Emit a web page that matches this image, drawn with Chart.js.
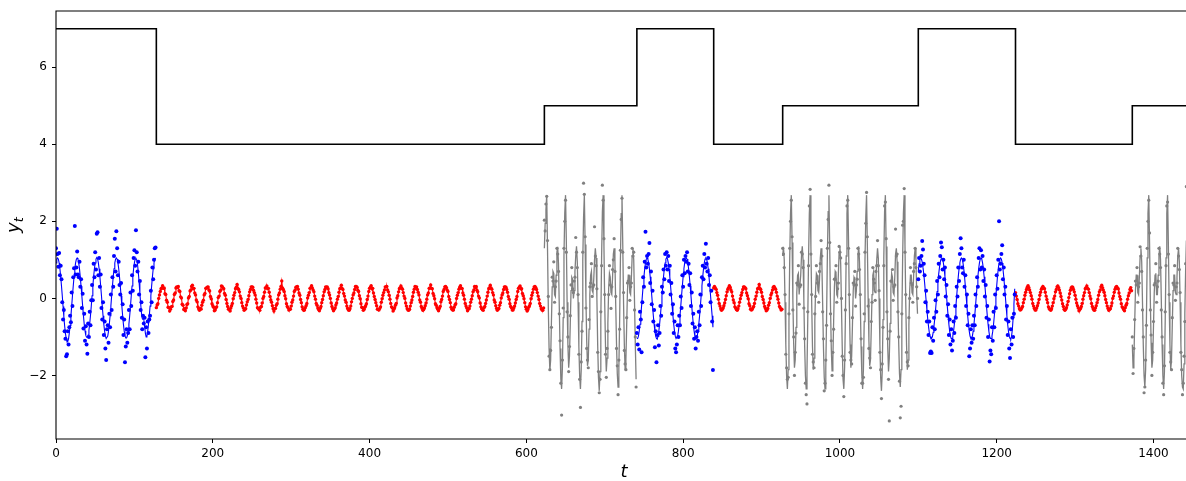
<!DOCTYPE html>
<html>
<head>
<meta charset="utf-8">
<script src="https://cdn.jsdelivr.net/npm/chart.js@4.4.1/dist/chart.umd.min.js"></script>
<style>html,body{margin:0;padding:0;background:#fff}</style>
</head>
<body>
<canvas id="c" width="1186" height="481"></canvas>
<script>
// axis ticks
const xTicks = [0, 200, 400, 600, 800, 1000, 1200, 1400];
const yTicks = [-2, 0, 2, 4, 6];

// regime indicator (step line)
const stepTimes = [0, 128, 623, 741, 839, 927, 1100, 1224, 1373, 1441.5];
const stepLevels = [7, 4, 5, 7, 4, 5, 7, 4, 5, 5];

// segment start times
const blueStart = [0, 741, 1100];
const redStart = [128, 839, 1224];
const grayStart = [623, 927, 1373];

// blue regime: smooth latent line + noisy observations
const blueLine1 = [.92,1.02,
1.05,1.02,.92,.77,.56,.32,.07,-.21,-.47,-.71,-.9,-1.04,-1.12,-1.12,-1.05,-.9,-.7,-.46,-.2,.07,.32,.56,.77,.92,1.02,
1.05,1.02,.92,.76,.55,.31,.06,-.2,-.45,-.67,-.84,-.96,-1.01,-1.01,-.95,-.83,-.66,-.44,-.2,.07,.32,.56,.77,.92,1.02,
1.06,1.03,.93,.77,.56,.32,.07,-.2,-.45,-.67,-.85,-.98,-1.04,-1.04,-.98,-.85,-.67,-.45,-.2,.07,.32,.56,.77,.92,1.02,
1.05,1.02,.92,.77,.56,.32,.07,-.2,-.45,-.67,-.85,-.97,-1.03,-1.03,-.97,-.85,-.67,-.45,-.2,.07,.32,.56,.77,.92,1.02,
1.04,1.0,.88,.68,.42,.14,-.14,-.38,-.52,-.55,-.56,-.7,-.9,-1.0,-.98,-.85,-.67,-.45,-.2,.07,.32,.56,.77,.92,1.02,
1.05];
const blueDots1 = [1.3,1.81,1.15,.82,1.18,.6,.85,.5,-.1,-.55,
-.3,-.85,-1.05,-1.5,-1.45,-.85,-1.2,-.75,-.45,-.62,
.15,-.2,.55,.78,1.88,.62,.8,1.22,.62,.55,
.95,.3,.5,-.25,.12,-.78,-.4,-1.1,-.72,-1.2,
-1.44,-.65,-1.0,-.35,-.7,-.05,.35,-.05,.9,.55,
1.2,.75,1.68,1.72,.6,1.05,.3,.62,-.25,-.55,
-.1,-.95,-.6,-1.3,-1.6,-.8,-.7,-1.15,-.4,-.75,
.1,-.3,.55,.3,1.1,1.55,.7,1.74,1.3,.6,
.95,.35,.1,.4,-.5,-.15,-.95,-.55,-1.66,-1.25,
-.8,-1.15,-.9,-.3,-.8,.15,-.2,.6,.2,1.05,
1.25,.85,1.77,1.2,.7,.95,.1,.45,-.3,-.1,
-.8,-.45,-.65,-.5,-1.53,-.75,-1.3,-.6,-.9,-.55,
-.45,.2,-.1,.8,.5,1.0,1.3,1.32];

const blueLine2 = [-1.04,-1.04,-.98,-.85,-.67,-.45,-.2,.07,.32,.56,.77,.92,1.02,
1.05,1.02,.92,.77,.56,.32,.07,-.2,-.45,-.67,-.85,-.98,-1.04,-1.06,-.98,-.85,-.67,-.45,-.2,.07,.32,.56,.77,.92,1.02,
1.06,1.03,.93,.77,.56,.32,.07,-.2,-.45,-.67,-.85,-.98,-1.04,-1.04,-.98,-.85,-.67,-.45,-.2,.07,.32,.56,.77,.92,1.02,
1.05,1.02,.92,.77,.56,.32,.07,-.2,-.45,-.67,-.85,-.98,-1.05,-1.05,-.98,-.85,-.67,-.45,-.2,.07,.32,.56,.77,.92,1.02,
1.05,1.02,.92,.77,.56,.32,.07,-.2,-.45,-.75];
const blueDots2 = [-.9,-1.2,-.75,-1.33,-.35,-.55,-1.4,-.1,.55,.3,
.95,1.73,.8,1.1,.9,1.15,1.44,.4,.7,-.15,
.2,-.6,-.3,-1.27,-.85,-1.66,-.95,-.7,-1.22,-.9,
-.2,-.45,.3,.15,.75,.5,1.15,.85,1.2,.75,
1.1,.45,.85,.1,.4,-.4,-.15,-.9,-.6,-1.3,
-1.4,-1.2,-.7,-1.0,-.45,-.7,.05,-.25,.6,.3,
1.0,.65,1.1,.95,1.2,.7,.9,.35,.65,-.2,
.15,-.65,-.4,-1.05,-.75,-1.3,-1.0,-.85,-1.1,-.35,
-.7,.1,-.2,.55,.85,.5,1.15,.8,1.42,.9,
.7,1.05,.35,.6,-.1,.2,-.6,-1.86];

const blueLine3 = [.7,.9,1.02,
1.05,1.02,.94,.8,.63,.42,.18,-.06,-.3,-.53,-.72,-.88,-.99,-1.04,-1.04,-.99,-.88,-.72,-.53,-.3,-.06,.18,.42,.63,.8,.94,1.02,
1.05,1.02,.92,.77,.56,.32,.07,-.2,-.45,-.67,-.85,-.98,-1.04,-1.04,-.98,-.85,-.67,-.45,-.2,.07,.32,.56,.77,.92,1.02,
1.05,1.02,.92,.77,.56,.32,.07,-.2,-.45,-.67,-.85,-.98,-1.04,-1.04,-.98,-.85,-.67,-.45,-.2,.07,.32,.56,.77,.92,1.02,
1.05,1.02,.92,.77,.56,.32,.07,-.2,-.45,-.67,-.85,-.98,-1.04,-1.04,-.98,-.85,-.67,-.45,-.2,.07,.32,.56,.77,.92,1.02,
1.05,1.02,.92,.77,.56,.32,.07,-.2,-.45,-.67,-.85,-.98,-1.04,-1.06,-.98,-.8,-.5,-.15,.25];
const blueDots3 = [.5,1.05,.7,.85,1.1,1.49,1.27,.9,.6,-.1,
.2,-.6,-.35,-.95,-.6,-1.42,-1.38,-1.42,-.75,-1.1,
-.5,-.8,-.05,-.35,.45,.1,.9,.55,1.1,1.45,
1.33,.75,1.0,.5,.8,.05,.35,-.45,-.15,-.95,
-.55,-1.2,-.8,-1.35,-1.1,-.6,-.9,-.2,-.5,.3,
.05,.8,.45,1.15,1.56,1.3,.8,.65,1.0,.3,
.6,-.2,.1,-.7,-.4,-1.5,-1.3,-.8,-1.15,-.7,
-1.05,-.45,-.7,.1,-.2,.55,.3,1.05,1.3,.75,
1.25,.8,1.1,.45,.75,.05,.35,-.5,-.2,-1.0,
-.55,-1.64,-1.35,-1.45,-.75,-1.1,-.35,-.75,.1,-.25,
.6,.25,1.0,2.0,.75,.9,1.15,1.38,.5,.8,
.1,.3,-.55,-.2,-.95,-.6,-1.3,-1.55,-.8,-1.2,
-.5,-1.0,-.4,.1];

// red regime: observations, close to the latent line
const redObs1 = [-.24,-.17,-.14,0,.09,.18,.25,.27,
.33,.26,.27,.12,.1,-.05,-.1,-.23,-.24,-.33,-.28,-.22,-.21,-.08,-.04,.1,.14,.27,.3,
.28,.31,.2,.18,.04,.01,-.15,-.18,-.29,-.27,-.32,-.25,-.16,-.14,.01,.05,.19,.22,.31,
.34,.25,.26,.14,.09,-.04,-.09,-.22,-.27,-.31,-.26,-.28,-.18,-.1,-.05,.09,.13,.26,.27,
.29,.3,.22,.19,.05,-.01,-.14,-.19,-.23,-.32,-.3,-.24,-.22,-.11,.02,.06,.18,.21,.32,
.31,.27,.25,.13,.08,-.03,-.13,-.21,-.28,-.29,-.33,-.25,-.19,-.13,-.01,.08,.15,.25,.29,
.36,.26,.23,.17,.06,0,-.11,-.2,-.25,-.31,-.28,-.27,-.17,-.09,-.03,.07,.17,.23,.3,
.3,.29,.21,.15,.09,-.02,-.12,-.24,-.26,-.29,-.31,-.23,-.21,-.12,0,.05,.16,.27,.28,
.32,.25,.26,.16,.05,-.04,-.1,-.19,-.27,-.33,-.27,-.26,-.18,-.14,-.02,.09,.14,.24,.31,
.45,.27,.23,.18,.07,-.01,-.14,-.21,-.24,-.3,-.29,-.28,-.2,-.1,-.04,.06,.18,.22,.29,
.3,.31,.24,.14,.08,-.03,-.11,-.22,-.28,-.31,-.3,-.24,-.19,-.13,.01,.08,.15,.26,.28,
.33,.27,.22,.17,.06,-.02,-.13,-.18,-.25,-.29,-.32,-.26,-.21,-.11,-.03,.07,.17,.23,.3,
.29,.3,.25,.15,.09,0,-.12,-.21,-.27,-.32,-.28,-.25,-.17,-.12,-.02,.05,.16,.25,.27,
.34,.26,.23,.13,.06,-.04,-.1,-.2,-.26,-.3,-.31,-.27,-.2,-.09,0,.09,.14,.23,.31,
.31,.29,.21,.18,.07,-.01,-.14,-.23,-.24,-.31,-.29,-.23,-.19,-.14,-.03,.06,.18,.26,.29,
.33,.25,.26,.14,.05,-.03,-.11,-.19,-.28,-.29,-.3,-.26,-.22,-.1,-.01,.08,.15,.22,.3,
.3,.31,.22,.17,.08,-.02,-.13,-.22,-.25,-.33,-.28,-.24,-.18,-.13,.01,.07,.17,.25,.28,
.32,.27,.24,.15,.06,0,-.12,-.2,-.27,-.3,-.31,-.28,-.2,-.11,-.04,.05,.16,.24,.31,
.29,.3,.23,.16,.09,-.04,-.1,-.21,-.26,-.31,-.29,-.25,-.19,-.12,-.02,.09,.14,.26,.27,
.35,.26,.25,.13,.07,-.01,-.14,-.18,-.24,-.28,-.32,-.26,-.21,-.09,-.03,.06,.18,.23,.3,
.31,.28,.22,.18,.05,-.03,-.11,-.23,-.28,-.3,-.3,-.23,-.17,-.14,0,.08,.15,.24,.29,
.33,.26,.26,.14,.08,-.02,-.13,-.2,-.25,-.32,-.27,-.27,-.2,-.1,-.02,.07,.17,.22,.31,
.28,.31,.21,.17,.06,.01,-.12,-.22,-.27,-.29,-.31,-.24,-.21,-.13,-.04,.06,.16,.25,.28,
.34,.27,.24,.15,.09,-.04,-.1,-.19,-.26,-.31,-.28,-.26,-.18,-.11,.01,.09,.14,.23,.3,
.3,.29,.23,.16,.05,-.02,-.14,-.21,-.24,-.3,-.3,-.25,-.2,-.12,-.03,.05,.18,.26,.29,
.32,.25,.25,.13,.07,-.01,-.11,-.22,-.28,-.33,-.29,-.23,-.19,-.13,-.01,.08,.15,.24,.3,
.31,.28,.23,.15,.06,-.03,-.13,-.2,-.27,-.3,-.31,-.25];
const redObs2 = [.27,
.31,.27,.24,.15,.08,-.02,-.13,-.2,-.27,-.31,-.28,-.25,-.19,-.12,-.03,.07,.17,.24,.28,
.33,.29,.22,.17,.06,-.04,-.11,-.22,-.25,-.29,-.31,-.27,-.2,-.1,-.01,.08,.15,.23,.3,
.3,.28,.25,.14,.07,-.01,-.14,-.19,-.28,-.3,-.29,-.24,-.21,-.13,-.02,.06,.16,.25,.27,
.36,.26,.23,.16,.05,-.03,-.12,-.21,-.26,-.32,-.3,-.26,-.18,-.11,0,.09,.14,.22,.29,
.31,.27,.24,.16,.06,-.02,-.12,-.21,-.25,-.3,-.28];
const redObs3 = [.15,.06,-.03,-.14,-.2,-.27,-.3,-.29,-.25,-.21,-.11,-.02,.08,.16,.23,.29,
.33,.28,.22,.15,.07,-.02,-.13,-.2,-.26,-.3,-.3,-.25,-.19,-.12,-.03,.08,.16,.24,.28,
.31,.27,.25,.16,.06,-.03,-.11,-.22,-.27,-.29,-.31,-.27,-.2,-.11,-.01,.06,.17,.23,.3,
.32,.28,.22,.14,.05,-.04,-.14,-.21,-.28,-.31,-.28,-.24,-.17,-.08,.02,.12,.21,.27,
.3,.29,.23,.17,.08,-.02,-.12,-.19,-.25,-.32,-.29,-.26,-.21,-.13,-.02,.07,.15,.25,.28,
.32,.26,.24,.15,.06,-.01,-.13,-.21,-.27,-.3,-.31,-.25,-.19,-.11,-.03,.08,.17,.22,.3,
.34,.28,.22,.16,.07,-.03,-.11,-.2,-.26,-.31,-.28,-.27,-.2,-.12,0,.06,.16,.24,.29,
.31,.27,.25,.14,.05,-.02,-.14,-.22,-.25,-.29,-.32,-.24,-.18,-.13,-.02,.07,.14,.23,.28,
.2];

// gray regime: latent line + noisy observations
const grayLine1 = [1.3,1.95,2.3,
2.68,1.3,-.2,-1.3,-1.88,-1.6,-.6,.3,.7,.65,.1,.05,.6,1.2,1.34,.9,-.2,-1.3,-2.1,-2.35,-1.8,-.5,1.1,2.2,
2.68,1.5,-.1,-1.2,-1.8,-1.5,-.7,.2,.55,.5,0,.2,.7,1.1,1.35,.95,-.1,-1.25,-2.0,-2.35,-1.85,-.6,1.0,2.1,
2.68,1.4,0,-1.1,-1.75,-1.6,-.8,.1,.6,.7,.2,.15,.5,1.0,1.3,1.05,0,-1.2,-2.05,-2.4,-1.9,-.55,1.05,2.25,
2.68,1.35,-.15,-1.25,-1.9,-1.55,-.65,.25,.65,.55,.15,.1,.55,1.15,1.3,.95,-.15,-1.15,-1.95,-2.3,-1.85,-.6,1.0,2.2,
2.68,1.4,-.1,-1.2,-1.85,-1.6,-.7,.2,.6,.6,.15,.1,.55,1.1,1.3,1.0,-.1,-1.2,-2.1];
const grayDots1 = [2.03,1.75,2.45,
2.65,1.5,.05,-1.5,-1.85,-1.35,-.75,.55,.45,.95,-.1,.3,.45,1.3,1.15,.7,-.4,-1.1,-2.2,-3.03,-1.6,-.25,1.3,2.0,
2.55,1.2,-.35,-1.0,-1.9,-1.25,-.45,.35,.8,.25,.15,.45,.55,1.58,1.2,.8,.1,-1.45,-2.1,-2.83,-1.65,-.85,1.2,2.99,
2.7,1.6,-.25,-1.3,-1.6,-1.8,-.55,.3,.4,.9,.05,.3,.35,1.86,1.1,.85,.25,-1.4,-1.9,-2.45,-2.1,-.35,.85,2.94,
2.55,1.55,.1,-1.45,-2.05,-1.3,-.85,.1,.85,.35,-.26,.3,.75,1.0,1.55,.7,.05,-1.3,-1.75,-2.5,-1.6,-.8,1.25,2.05,
2.6,1.2,.15,-1.35,-1.7,-1.85,-.5,.4,.45,.8,-.05,.3,.4,1.3,1.1,1.2,-.3,-1.0,-2.3];

const grayLine2 = [1.1,1.34,1.0,-.1,-1.2,-2.0,-2.35,-1.85,-.6,1.05,2.2,
2.68,1.45,-.05,-1.15,-1.8,-1.6,-.75,.15,.6,.65,.1,.1,.6,1.1,1.35,1.0,-.05,-1.2,-2.0,-2.35,-1.9,-.55,1.05,2.2,
2.68,1.35,-.1,-1.25,-1.85,-1.55,-.6,.25,.65,.6,.2,.15,.5,1.05,1.3,.9,-.15,-1.25,-2.05,-2.35,-1.8,-.5,1.1,2.25,
2.68,1.3,-.2,-1.3,-1.88,-1.6,-.6,.3,.7,.65,.1,.05,.6,1.2,1.34,.9,-.2,-1.3,-2.1,-2.35,-1.8,-.5,1.1,2.2,
2.68,1.5,-.1,-1.2,-1.8,-1.5,-.7,.2,.55,.5,0,.2,.7,1.1,1.35,.95,-.1,-1.25,-2.0,-2.35,-1.85,-.6,1.0,2.1,
2.68,1.4,0,-1.1,-1.75,-1.6,-.8,.1,.6,.7,.2,.15,.5,1.0,1.3,1.05,0,-1.2,-2.05,-2.4,-1.9,-.55,1.05,2.25,
2.68,1.35,-.15,-1.25,-1.9,-1.55,-.65,.25,.65,.55,.15,.1,.55,1.15,1.3,.95,-.15,-1.15,-1.95,-2.3,-1.85,-.6,1.0,2.2,
2.68,1.4,-.1,-1.2,-1.85,-1.6,-.7,.2,.6,.6,.15,.1,.55,1.1,1.3,1.0,.1,-.4];
const grayDots2 = [1.3,1.15,.8,.1,-1.45,-1.8,-2.1,-2.05,-.4,1.3,2.0,
2.55,1.6,-.3,-1.0,-2.0,-1.4,-.9,.4,.35,.85,-.15,.3,.35,1.2,1.15,.8,-.25,-1.05,-2.2,-2.5,-2.74,-.35,.85,2.4,
2.83,1.15,.1,-1.45,-1.65,-1.8,-.4,.05,.85,.4,.4,-.1,.7,.9,1.5,1.1,-.35,-1.05,-2.4,-2.2,-1.6,-.7,1.3,2.05,
2.94,1.45,-.4,-1.1,-2.0,-1.4,-.8,.5,.5,.85,-.1,.25,.4,1.35,1.2,1.05,0,-1.5,-2.0,-2.55,-1.6,-.3,.9,2.4,
2.55,1.3,.1,-1.4,-1.6,-1.7,-.5,.4,.35,.7,-.2,.35,.5,1.3,1.15,.75,.1,-1.05,-2.2,-2.2,-2.05,-.4,1.2,1.95,
2.75,1.6,-.2,-1.3,-1.55,-1.8,-.6,-.1,.8,.5,.4,-.05,.7,.85,1.5,.85,.2,-1.4,-1.85,-2.6,-1.7,-.75,.85,2.4,
2.5,1.55,-.35,-1.05,-2.1,-3.18,-.85,.45,.45,.75,-.05,.3,.35,1.8,1.1,1.15,-.35,-1.0,-2.15,-3.1,-2.8,-.4,1.9,2.0,
2.85,1.2,.1,-1.4,-1.65,-1.75,-.5,0,.8,.4,.35,-.1,.7,.9,1.3,.8,.3,0];

const grayLine3 = [-1.2,-1.8,-1.6,-.7,.2,.6,.6,.15,.1,.55,1.1,1.3,.95,-.1,-1.2,-2.0,-2.3,-1.85,-.55,1.05,2.2,
2.68,1.45,-.05,-1.15,-1.8,-1.6,-.75,.15,.6,.65,.1,.1,.6,1.1,1.35,1.0,-.05,-1.2,-2.0,-2.35,-1.9,-.55,1.05,2.2,
2.68,1.4,-.1,-1.2,-1.85,-1.6,-.7,.2,.6,.6,.15,.1,.55,1.1,1.3,.95,-.1,-1.2,-2.0,-2.3,-2.35,-1.7,-.4,.7,1.5,2.3];
const grayDots3 = [-1.0,-1.95,-1.3,-.55,.45,.35,.8,-.1,.3,.4,1.34,1.1,.7,-.3,-1.0,-2.45,-2.3,-1.6,-.7,1.3,2.0,
2.55,1.7,-.3,-.95,-2.0,-1.4,-.6,.35,.4,.9,-.1,.3,.45,1.3,1.15,.8,-.3,-1.0,-2.2,-2.5,-1.75,-.35,.85,2.4,
2.5,1.15,.1,-1.4,-1.65,-1.85,-.5,.4,.35,.85,-.05,.3,.4,1.3,1.1,.75,.15,-1.4,-1.85,-2.5,-2.2,-1.5,-.6,.9,2.9,2.2];

const BLUE = '#0000ff', RED = '#ff0000', GRAY = '#808080';

function toPoints(start, values) {
    return values.map((v, i) => ({x: start + i, y: v}));
}

function lineSet(start, values, color, width) {
    return {data: toPoints(start, values), borderColor: color, borderWidth: width,
        pointRadius: 0, showLine: true, order: 2};
}

function dotSet(start, values, color, r) {
    return {data: toPoints(start, values), showLine: false, pointRadius: r,
        pointBorderWidth: 0, pointBackgroundColor: color, borderColor: color, order: 1};
}

const datasets = [];
[blueLine1, blueLine2, blueLine3].forEach((a, i) => datasets.push(lineSet(blueStart[i], a, BLUE, 1.1)));
[blueDots1, blueDots2, blueDots3].forEach((a, i) => datasets.push(dotSet(blueStart[i], a, BLUE, 2)));
[grayLine1, grayLine2, grayLine3].forEach((a, i) => datasets.push(lineSet(grayStart[i], a, GRAY, 1.3)));
[grayDots1, grayDots2, grayDots3].forEach((a, i) => datasets.push(dotSet(grayStart[i], a, GRAY, 1.6)));
[redObs1, redObs2, redObs3].forEach((a, i) => {
    const d = lineSet(redStart[i], a, RED, 1.1);
    d.pointRadius = 1.7;
    d.pointBorderWidth = 0;
    d.pointBackgroundColor = RED;
    datasets.push(d);
});
datasets.push({
    data: stepTimes.map((t, i) => ({x: t, y: stepLevels[i]})),
    borderColor: '#000', borderWidth: 1.6, pointRadius: 0, stepped: 'before', order: 0
});

// spines + axis labels, matplotlib style
const frame = {
    id: 'frame',
    afterDraw(chart) {
        const {ctx, chartArea: a} = chart;
        ctx.save();
        ctx.strokeStyle = '#000';
        ctx.lineWidth = 1.1;
        ctx.beginPath();
        ctx.moveTo(a.right + 2, a.top);
        ctx.lineTo(a.left, a.top);
        ctx.lineTo(a.left, a.bottom);
        ctx.lineTo(a.right + 2, a.bottom);
        ctx.stroke();

        ctx.fillStyle = '#000';
        ctx.font = 'italic 18px "DejaVu Sans"';
        ctx.textAlign = 'center';
        ctx.textBaseline = 'alphabetic';
        ctx.fillText('t', 624, 477);

        ctx.translate(19, 225);
        ctx.rotate(-Math.PI / 2);
        ctx.textAlign = 'left';
        ctx.font = 'italic 18px "DejaVu Sans"';
        const w = ctx.measureText('y').width;
        ctx.fillText('y', -8, 0);
        ctx.font = 'italic 13px "DejaVu Sans"';
        ctx.fillText('t', -8 + w, 4);
        ctx.restore();
    }
};

const tickFont = {family: 'DejaVu Sans', size: 12};
const fmt = v => String(v).replace('-', '\u2212');

new Chart(document.getElementById('c'), {
    type: 'line',
    data: {datasets},
    options: {
        responsive: false,
        animation: false,
        devicePixelRatio: 1,
        events: [],
        layout: {autoPadding: false, padding: {top: 11, right: 0, left: 0, bottom: 0}},
        plugins: {legend: {display: false}, tooltip: {enabled: false}},
        scales: {
            x: {
                type: 'linear', min: 0, max: 1441.5,
                afterBuildTicks: s => { s.ticks = xTicks.map(v => ({value: v})); },
                afterFit: s => { s.height = 42; s.paddingLeft = 0; s.paddingRight = 0; },
                border: {display: false},
                grid: {drawOnChartArea: false, drawTicks: true, tickLength: 4, tickColor: '#000', tickWidth: 1},
                ticks: {color: '#000', font: tickFont, padding: 4, maxRotation: 0, autoSkip: false, callback: fmt}
            },
            y: {
                min: -3.65, max: 7.46,
                afterBuildTicks: s => { s.ticks = yTicks.map(v => ({value: v})); },
                afterFit: s => { s.width = 56; s.paddingTop = 0; s.paddingBottom = 0; },
                border: {display: false},
                grid: {drawOnChartArea: false, drawTicks: true, tickLength: 4, tickColor: '#000', tickWidth: 1},
                ticks: {color: '#000', font: tickFont, padding: 5, autoSkip: false, callback: fmt}
            }
        }
    },
    plugins: [frame]
});
</script>
</body>
</html>
